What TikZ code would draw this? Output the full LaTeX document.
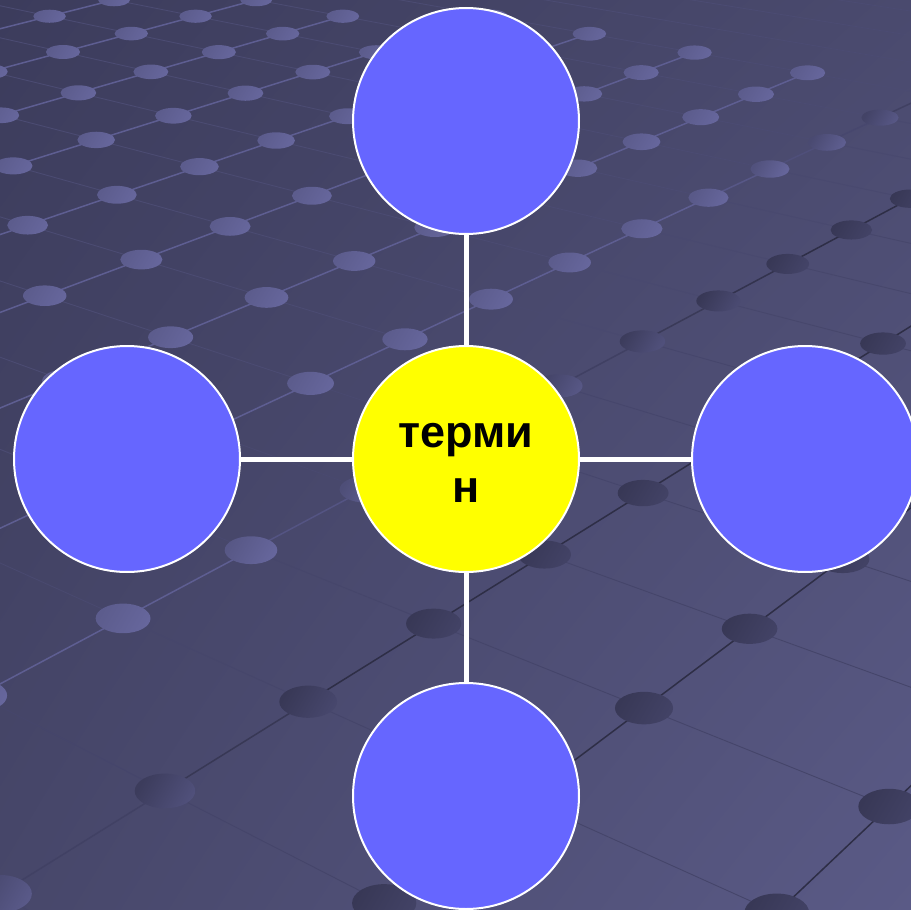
\documentclass[tikz,border=0pt]{standalone}
\usepackage{fontspec}
\setmainfont{Liberation Sans}
\usetikzlibrary{shadings}
\definecolor{bgUL}{HTML}{3C3C5C}
\definecolor{bgUR}{HTML}{4A4A6E}
\definecolor{bgLL}{HTML}{47476A}
\definecolor{bgLR}{HTML}{5A5A86}
\definecolor{dotlight}{HTML}{66669C}
\definecolor{dotdark}{HTML}{383856}
\definecolor{gridlight}{HTML}{5E5E92}
\definecolor{griddark}{HTML}{2E2E46}
\definecolor{faintlight}{HTML}{4B4B72}
\definecolor{faintdark}{HTML}{45456A}
\definecolor{bubblefill}{HTML}{6666FF}
\definecolor{coreyellow}{HTML}{FFFF00}
\begin{document}
\begin{tikzpicture}[x=1pt,y=-1pt,
  bubble/.style={circle, draw=white, line width=2pt, fill=bubblefill, minimum size=226pt, inner sep=0pt},
  core/.style={bubble, fill=coreyellow},
  link/.style={draw=white, line width=5pt},
  termtext/.style={font=\bfseries\fontsize{45}{55}\selectfont, align=center, text=black, inner sep=0pt},
  gridmain/.style={line width=1.5pt},
  gridfaint/.style={line width=0.9pt}]
\useasboundingbox (0,0) rectangle (911,910);
\shade[upper left=bgUL, upper right=bgUR, lower left=bgLL, lower right=bgLR] (0,0) rectangle (911,910);
\begin{scope}
\clip (0,0) rectangle (911,910);
% perspective grid lines
\foreach \i in {-12,...,10}{
  \foreach \j in {-2,...,12}{
    \pgfmathsetmacro\Da{1+0.03099*\i-0.03533*\j}
    \pgfmathsetmacro\Db{1+0.03099*(\i+1)-0.03533*\j}
    \pgfmathsetmacro\Dc{1+0.03099*\i-0.03533*(\j+1)}
    \ifdim\Dc pt>0.3pt
      \pgfmathsetmacro\Xa{(63+72.34*\i+82.55*\j)/\Da}
      \pgfmathsetmacro\Ya{(52-17.38*\i+17.30*\j)/\Da}
      \pgfmathsetmacro\Xb{(63+72.34*(\i+1)+82.55*\j)/\Db}
      \pgfmathsetmacro\Yb{(52-17.38*(\i+1)+17.30*\j)/\Db}
      \pgfmathsetmacro\Xc{(63+72.34*\i+82.55*(\j+1))/\Dc}
      \pgfmathsetmacro\Yc{(52-17.38*\i+17.30*(\j+1))/\Dc}
      \pgfmathtruncatemacro\tb{max(0,min(100,(\j+0.2*\i+0.1-5.5)*100-0.15*max(0,480-(\Ya+\Yb)/2)))}
      \pgfmathtruncatemacro\tc{max(0,min(100,((\Xa+\Xc)/4+(\Ya+\Yc)/2-500)/3))}
      \pgfmathsetmacro\fb{min(\Ya-0.12*\Xa+40,\Yb-0.12*\Xb+40)}
      \draw[gridfaint, draw=faintdark!\tc!faintlight] (\Xa,\Ya) -- (\Xc,\Yc);
      \ifdim\fb pt>-4pt
        \draw[gridmain, draw=griddark!\tb!gridlight] (\Xa,\Ya) -- (\Xb,\Yb);
      \fi
    \fi
  }
}
% perspective grid dots
\foreach \i in {-12,...,10}{
  \foreach \j in {-2,...,12}{
    \pgfmathsetmacro\Da{1+0.03099*\i-0.03533*\j}
    \ifdim\Da pt>0.3pt
      \pgfmathsetmacro\Xa{(63+72.34*\i+82.55*\j)/\Da}
      \pgfmathsetmacro\Ya{(52-17.38*\i+17.30*\j)/\Da}
      \pgfmathsetmacro\fa{\Ya-0.12*\Xa+40}
      \ifdim\fa pt>-4pt
        \pgfmathsetmacro\rx{17/pow(\Da,0.7)}
        \pgfmathsetmacro\ry{7/pow(\Da,1.1)}
        \pgfmathsetmacro\ts{max(0,min(100,(\j+0.2*\i-5.5)*100-0.15*max(0,480-\Ya)))}
        \pgfmathtruncatemacro\tl{min(100,\ts+22)}
        \pgfmathtruncatemacro\tr{max(0,\ts-22)}
        \shade[left color=dotdark!\tl!dotlight, right color=dotdark!\tr!dotlight, shading angle=60]
          (\Xa,\Ya) ellipse [x radius=\rx pt, y radius=\ry pt];
      \fi
    \fi
  }
}
\end{scope}
% diagram
\node[bubble] (top) at (466,121) {};
\node[bubble] (left) at (127,459) {};
\node[core] (hub) at (466,459) {};
\node[bubble] (right) at (805,459) {};
\node[bubble] (bottom) at (466,796) {};
\draw[link] (hub) -- (top);
\draw[link] (hub) -- (left);
\draw[link] (hub) -- (right);
\draw[link] (hub) -- (bottom);
\node[termtext] (termlabel) at (466,459) [yshift=-3.5pt] {терми\\н};
\end{tikzpicture}
\end{document}
